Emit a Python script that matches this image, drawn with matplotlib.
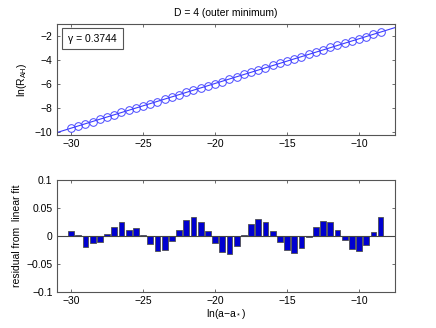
import numpy as np
import matplotlib.pyplot as plt
from matplotlib.patches import Rectangle

# ln(a - a*) sample points
x = np.arange(-30, -8.4, 0.5)

# residuals from the linear fit
residual = [0.008, 0.001, -0.020, -0.014, -0.012, 0.003, 0.016, 0.024, 0.010, 0.013,
            0.002, -0.015, -0.028, -0.026, -0.010, 0.011, 0.028, 0.033, 0.025, 0.008,
            -0.014, -0.030, -0.032, -0.018, 0.002, 0.021, 0.029, 0.024, 0.008, -0.012,
            -0.025, -0.031, -0.022, -0.003, 0.016, 0.027, 0.025, 0.011, -0.008, -0.024,
            -0.028, -0.017, 0.007, 0.033]

gamma = 0.3744
intercept = 1.53

lnR = gamma * x + intercept + np.array(residual)

plt.rcParams['font.family'] = ['Liberation Sans', 'DejaVu Sans']
plt.rcParams['font.size'] = 7
plt.rcParams['mathtext.default'] = 'regular'

fig = plt.figure(figsize=(4.36, 3.28), dpi=100)
grey = '#555555'

def style(ax):
    for s in ax.spines.values():
        s.set_color(grey)
        s.set_linewidth(0.8)
    ax.tick_params(direction='in', length=2.5, width=0.6, color=grey,
                   top=True, right=True, labelsize=7.5, pad=3)

# top panel: ln(R_AH) vs ln(a - a*)
ax1 = fig.add_axes([0.130, 0.5875, 0.776, 0.3385])
xl = np.array([-31, -7.5])
ax1.plot(xl, gamma * xl + intercept, color='#3b3bff', lw=0.8)
ax1.plot(x, lnR, 'o', mfc='none', mec='#4848ff', ms=5.5, mew=0.7)
ax1.set_xlim(-31, -7.5)
ax1.set_ylim(-10.3, -1)
ax1.set_xticks([-30, -25, -20, -15, -10])
ax1.set_yticks([-10, -8, -6, -4, -2])
ax1.set_xticklabels(['\u221230', '\u221225', '\u221220', '\u221215', '\u221210'])
ax1.set_yticklabels(['\u221210', '\u22128', '\u22126', '\u22124', '\u22122'])
ax1.set_ylabel(r'ln(R$_{AH}$)', fontsize=7.5, labelpad=4)
ax1.set_title('D = 4 (outer minimum)', fontsize=7.5, pad=6)
style(ax1)
ax1.add_patch(Rectangle((0.0157, 0.775), 0.181, 0.189, transform=ax1.transAxes,
                        fill=False, ec=grey, lw=0.8))
ax1.text(0.106, 0.87, '\u03b3 = 0.3744', transform=ax1.transAxes,
         ha='center', va='center', fontsize=7.5)

# bottom panel: residuals
ax2 = fig.add_axes([0.130, 0.111, 0.776, 0.341])
ax2.bar(x, residual, width=0.4, color='#0000d0', edgecolor='#505050', linewidth=0.6)
ax2.axhline(0, color='#444444', lw=0.8)
ax2.set_xlim(-31, -7.5)
ax2.set_ylim(-0.1, 0.1)
ax2.set_xticks([-30, -25, -20, -15, -10])
ax2.set_yticks([-0.1, -0.05, 0, 0.05, 0.1])
ax2.set_xticklabels(['\u221230', '\u221225', '\u221220', '\u221215', '\u221210'])
ax2.set_yticklabels(['\u22120.1', '\u22120.05', '0', '0.05', '0.1'])
ax2.set_ylabel('residual from  linear fit', fontsize=7.5, labelpad=3)
ax2.set_xlabel('ln(a\u2212a$_*$)', fontsize=7.5, labelpad=1)
style(ax2)

fig.savefig('out.png', dpi=100)
